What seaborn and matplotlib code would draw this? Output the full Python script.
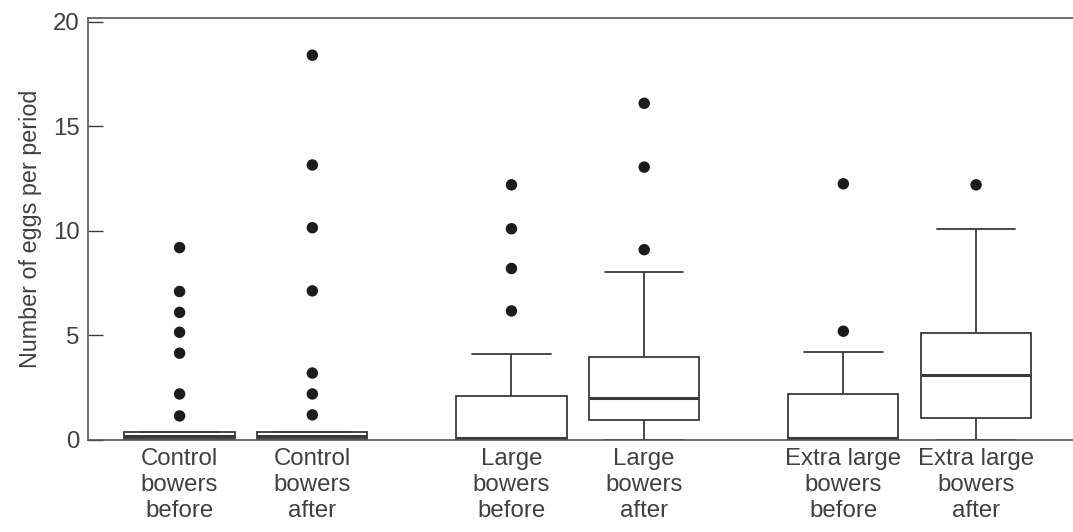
import numpy as np
import pandas as pd
import matplotlib
matplotlib.use("Agg")
import matplotlib.pyplot as plt
import seaborn as sns

# group labels and where they sit on the x axis (pairs: before / after)
groups = ["Control\nbowers\nbefore", "Control\nbowers\nafter",
          "Large\nbowers\nbefore", "Large\nbowers\nafter",
          "Extra large\nbowers\nbefore", "Extra large\nbowers\nafter"]
group_pos = [0, 1, 2.5, 3.5, 5, 6]

# box summaries (whiskers = 10th / 90th percentile style)
whisker_low = [0.0, 0.0, 0.0, 0.0, 0.0, 0.0]
quartile_1 = [0.03, 0.03, 0.0, 0.96, 0.0, 1.05]
medians = [0.2, 0.2, 0.1, 2.0, 0.1, 3.1]
quartile_3 = [0.38, 0.38, 2.1, 3.97, 2.2, 5.1]
whisker_high = [0.38, 0.38, 4.1, 8.05, 4.2, 10.1]

# points outside the whiskers
outliers = [
    [9.2, 7.1, 6.1, 5.15, 4.15, 2.2, 1.15],
    [18.4, 13.15, 10.15, 7.13, 3.2, 2.2, 1.2],
    [12.2, 10.1, 8.2, 6.17],
    [16.1, 13.05, 9.1],
    [12.25, 5.2],
    [12.2],
]


def main():
    sns.set_style("ticks")
    plt.rcParams["font.family"] = ["Liberation Sans", "DejaVu Sans"]

    # five-number table per group -> boxplot with whiskers at min / max
    rows = []
    for i, pos in enumerate(group_pos):
        for v in (whisker_low[i], quartile_1[i], medians[i], quartile_3[i], whisker_high[i]):
            rows.append({"pos": pos, "eggs": v})
    box_df = pd.DataFrame(rows)

    flier_rows = []
    for i, pos in enumerate(group_pos):
        for v in outliers[i]:
            flier_rows.append({"pos": pos, "eggs": v})
    flier_df = pd.DataFrame(flier_rows)

    line_col = "#3a3a3a"
    text_col = "#404040"
    fig = plt.figure(figsize=(10.73, 5.32), dpi=100)
    ax = fig.add_axes([0.082, 0.173, 0.918, 0.794])

    sns.boxplot(data=box_df, x="pos", y="eggs", native_scale=True,
                whis=(0, 100), width=0.83, color="white", linecolor=line_col,
                linewidth=1.3, showfliers=False, capwidths=0.59,
                medianprops={"linewidth": 2.2, "color": line_col}, ax=ax)
    sns.scatterplot(data=flier_df, x="pos", y="eggs", color="#1c1c1c",
                    s=68, edgecolor="none", ax=ax, zorder=5)

    ax.set_xlim(-0.69, 6.73)
    ax.set_ylim(0, 20.2)
    ax.set_yticks([0, 5, 10, 15, 20])
    ax.set_xticks(group_pos)
    ax.set_xticklabels(groups, fontsize=17.3, color=text_col, linespacing=1.22)
    ax.tick_params(axis="x", length=0, pad=6)
    ax.tick_params(axis="y", direction="in", length=11, width=1,
                   labelsize=17.3, labelcolor=text_col, color=line_col, pad=6)
    ax.set_xlabel("")
    ax.set_ylabel("Number of eggs per period", fontsize=16.8, color=text_col, labelpad=8)

    for side in ["left", "bottom", "top"]:
        ax.spines[side].set_color("#555555")
        ax.spines[side].set_linewidth(1.2)
    ax.spines["right"].set_visible(False)

    fig.savefig("out.png", dpi=100)
    plt.close(fig)


if __name__ == "__main__":
    main()
